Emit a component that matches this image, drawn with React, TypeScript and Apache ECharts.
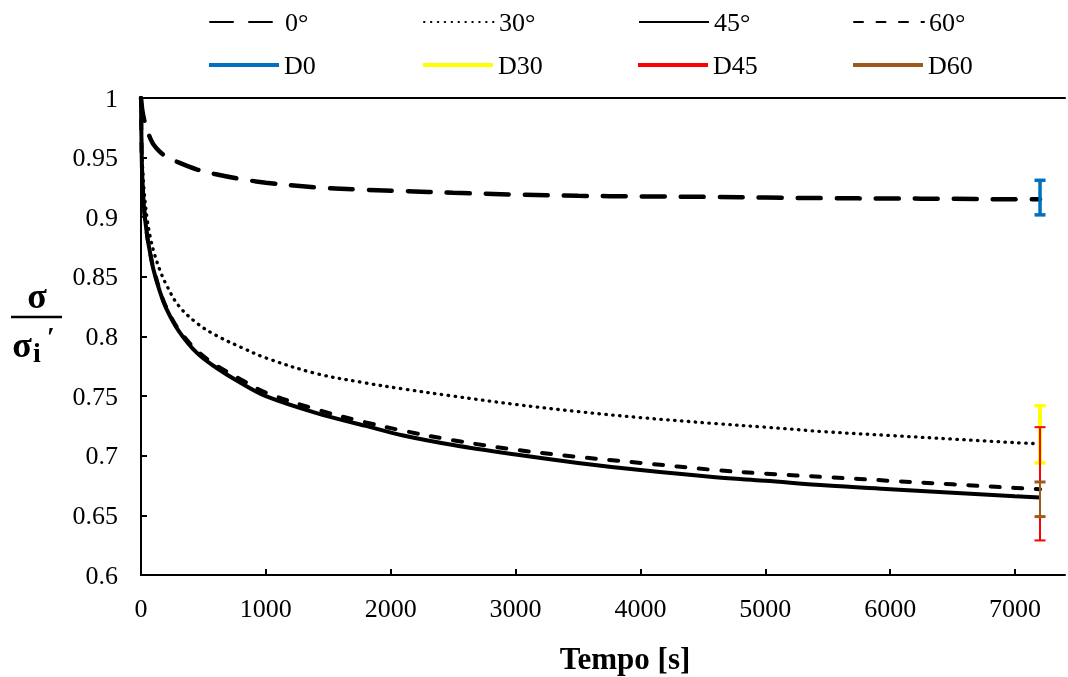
import React, { useEffect, useRef } from "react";
import * as echarts from "echarts";

const FONT = "Liberation Serif";

// time [s]
const timeS = [0, 5, 10, 25, 50, 75, 100, 150, 200, 300, 450, 600, 800, 1000, 1400, 1800, 2100, 2500, 3000, 3500, 4000, 4600, 5000, 5500, 6000, 6500, 7000, 7200];
// sigma / sigma_i'
const s0 = [1, 0.995, 0.99, 0.982, 0.973, 0.966, 0.961, 0.955, 0.951, 0.946, 0.94, 0.936, 0.932, 0.929, 0.925, 0.923, 0.922, 0.9205, 0.919, 0.918, 0.9175, 0.917, 0.9165, 0.916, 0.9157, 0.9155, 0.915, 0.915];
const s30 = [1, 0.965, 0.948, 0.922, 0.898, 0.883, 0.872, 0.856, 0.844, 0.826, 0.811, 0.801, 0.791, 0.782, 0.769, 0.761, 0.756, 0.75, 0.743, 0.737, 0.732, 0.727, 0.724, 0.72, 0.717, 0.714, 0.711, 0.71];
const s45 = [1, 0.955, 0.935, 0.907, 0.884, 0.869, 0.856, 0.838, 0.824, 0.805, 0.786, 0.774, 0.761, 0.75, 0.736, 0.725, 0.717, 0.709, 0.701, 0.694, 0.688, 0.682, 0.679, 0.675, 0.672, 0.669, 0.666, 0.665];
const s60 = [1, 0.955, 0.935, 0.907, 0.884, 0.869, 0.857, 0.839, 0.825, 0.806, 0.788, 0.776, 0.764, 0.753, 0.739, 0.728, 0.721, 0.713, 0.705, 0.699, 0.694, 0.688, 0.685, 0.682, 0.679, 0.676, 0.673, 0.672];

// error bars at t = 7200 s : [time, low, high]
const errD0 = [7200, 0.902, 0.931];
const errD30 = [7200, 0.694, 0.742];
const errD45 = [7200, 0.629, 0.724];
const errD60 = [7200, 0.649, 0.678];

const lineNames = ["0°", "30°", "45°", "60°"];
const errNames = ["D0", "D30", "D45", "D60"];
const xTitle = "Tempo [s]";

function toPairs(vals: number[]) {
  return timeS.map((t, i) => [t, vals[i]]);
}

function errSeries(name: string, d: number[], color: string, lw: number, capW: number) {
  return {
    name,
    type: "custom",
    itemStyle: { color },
    data: [d],
    encode: { x: 0, y: [1, 2] },
    renderItem: (params: any, api: any) => {
      const x = api.value(0);
      const lo = api.coord([x, api.value(1)]);
      const hi = api.coord([x, api.value(2)]);
      const h = 5.5;
      return {
        type: "group",
        children: [
          { type: "line", shape: { x1: lo[0], y1: lo[1], x2: hi[0], y2: hi[1] }, style: { stroke: color, lineWidth: lw } },
          { type: "line", shape: { x1: lo[0] - h, y1: lo[1], x2: lo[0] + h, y2: lo[1] }, style: { stroke: color, lineWidth: capW } },
          { type: "line", shape: { x1: hi[0] - h, y1: hi[1], x2: hi[0] + h, y2: hi[1] }, style: { stroke: color, lineWidth: capW } },
        ],
      };
    },
    z: 5,
  };
}

export default function App() {
  const ref = useRef<HTMLDivElement>(null);
  useEffect(() => {
    if (!ref.current) return;
    const chart = echarts.init(ref.current, undefined, { renderer: "svg" });
    const legendPos = [209, 423, 638, 853];
    const legends: any[] = [];
    lineNames.forEach((n, i) => {
      legends.push({
        data: [n],
        left: legendPos[i],
        top: 9,
        itemWidth: 70,
        itemHeight: 14,
        padding: 0,
        itemStyle: { color: "rgba(0,0,0,0)", borderColor: "rgba(0,0,0,0)", borderWidth: 0, opacity: 0 },
        textStyle: { fontFamily: FONT, fontSize: 26, color: "#000" },
      });
    });
    errNames.forEach((n, i) => {
      legends.push({
        data: [{ name: n, icon: "rect" }],
        left: legendPos[i],
        top: 52,
        itemWidth: 70,
        itemHeight: 4,
        padding: 0,
        textStyle: { fontFamily: FONT, fontSize: 26, color: "#000" },
      });
    });

    const lineCommon = { type: "line", symbol: "none", smooth: 0.35 };
    const frameAxis = {
      axisLine: { show: true, lineStyle: { color: "#000", width: 2 } },
      axisTick: { show: false },
      axisLabel: { show: false },
      splitLine: { show: false },
    };

    const option: any = {
      animation: false,
      legend: legends,
      grid: { left: 141, right: 3, top: 98, bottom: 102 },
      xAxis: [
        {
          type: "value",
          min: 0,
          max: 7400,
          interval: 1000,
          axisLine: { show: true, lineStyle: { color: "#000", width: 2 } },
          axisTick: { show: true, inside: true, length: 6, lineStyle: { color: "#000", width: 2 } },
          axisLabel: {
            fontFamily: FONT,
            fontSize: 26,
            color: "#000",
            margin: 20,
            showMaxLabel: false,
            formatter: (v: number) => String(v),
          },
          splitLine: { show: false },
        },
        { type: "value", position: "top", min: 0, max: 7400, ...frameAxis },
      ],
      yAxis: [
        {
          type: "value",
          min: 0.6,
          max: 1,
          interval: 0.05,
          axisLine: { show: true, lineStyle: { color: "#000", width: 2 } },
          axisTick: { show: true, inside: true, length: 6, lineStyle: { color: "#000", width: 2 } },
          axisLabel: {
            fontFamily: FONT,
            fontSize: 26,
            color: "#000",
            margin: 23,
            formatter: (v: number) => String(Math.round(v * 100) / 100),
          },
          splitLine: { show: false },
        },
        { type: "value", position: "right", min: 0.6, max: 1, ...frameAxis },
      ],
      series: [
        {
          ...lineCommon,
          name: "0°",
          data: toPairs(s0),
          lineStyle: { color: "#000", width: 4.5, type: [23, 16], cap: "round" },
          itemStyle: { color: "#000" },
        },
        {
          ...lineCommon,
          name: "30°",
          data: toPairs(s30),
          lineStyle: { color: "#000", width: 3.3, type: [0.5, 6.4], cap: "round" },
          itemStyle: { color: "#000" },
        },
        {
          ...lineCommon,
          name: "45°",
          data: toPairs(s45),
          lineStyle: { color: "#000", width: 4 },
          itemStyle: { color: "#000" },
        },
        {
          ...lineCommon,
          name: "60°",
          data: toPairs(s60),
          lineStyle: { color: "#000", width: 4, type: [9, 13.5], cap: "round" },
          itemStyle: { color: "#000" },
        },
        errSeries("D0", errD0, "#0070C0", 3.5, 3.5),
        errSeries("D30", errD30, "#FFFF00", 4, 3.5),
        errSeries("D45", errD45, "#FF0000", 2, 2),
        errSeries("D60", errD60, "#9C5B1C", 2, 3),
      ],
      graphic: [
        { type: "text", x: 625, y: 658, style: { text: xTitle, fontFamily: FONT, fontSize: 31, fontWeight: "bold", fill: "#000", align: "center", verticalAlign: "middle" } },
        { type: "text", x: 37, y: 296, style: { text: "σ", fontFamily: FONT, fontSize: 36, fontWeight: "bold", fill: "#000", align: "center", verticalAlign: "middle" } },
        { type: "line", shape: { x1: 11, y1: 317, x2: 62, y2: 317 }, style: { stroke: "#000", lineWidth: 2.5 } },
        { type: "text", x: 22, y: 345, style: { text: "σ", fontFamily: FONT, fontSize: 36, fontWeight: "bold", fill: "#000", align: "center", verticalAlign: "middle" } },
        { type: "text", x: 37, y: 352, style: { text: "i", fontFamily: FONT, fontSize: 28, fontWeight: "bold", fill: "#000", align: "center", verticalAlign: "middle" } },
        { type: "text", x: 51, y: 336, style: { text: "′", fontFamily: FONT, fontSize: 28, fontWeight: "bold", fill: "#000", align: "center", verticalAlign: "middle" } },
      ],
    };
    chart.setOption(option);
    return () => chart.dispose();
  }, []);
  return (
    <div
      ref={ref}
      style={{ position: "fixed", left: 0, top: 0, width: 1068, height: 677 }}
    />
  );
}
